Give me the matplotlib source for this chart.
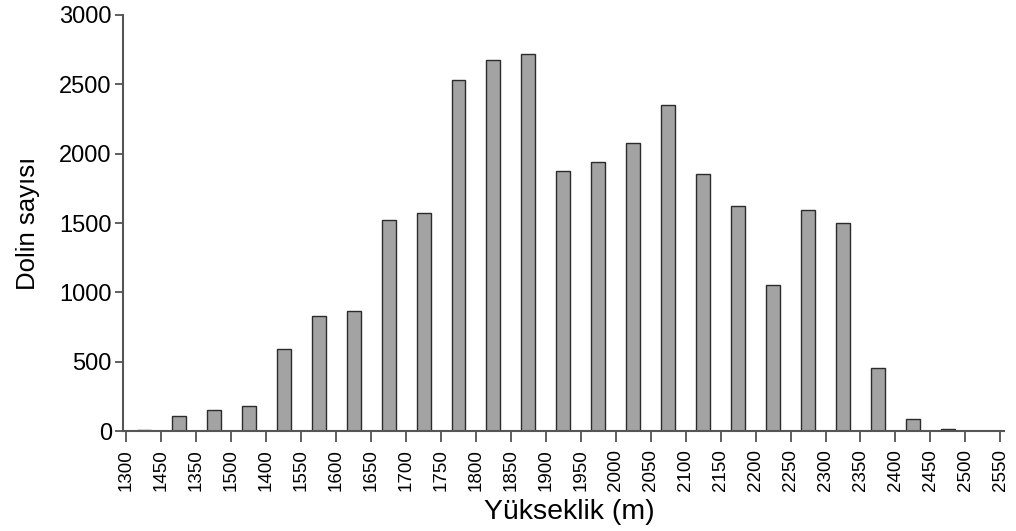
import numpy as np
import matplotlib
matplotlib.use("Agg")
import matplotlib.pyplot as plt

plt.rcParams['font.family'] = ['Liberation Sans', 'DejaVu Sans']

# tick labels as printed in the source figure (order kept as-is)
tick_labels = ['1300', '1450', '1350', '1500', '1400', '1550', '1600', '1650',
               '1700', '1750', '1800', '1850', '1900', '1950', '2000', '2050',
               '2100', '2150', '2200', '2250', '2300', '2350', '2400', '2450',
               '2500', '2550']
# dolin counts per elevation band
counts = [10, 110, 150, 180, 590, 830, 865, 1520, 1570, 2530, 2675, 2720,
          1875, 1940, 2080, 2350, 1855, 1620, 1050, 1595, 1500, 455, 85, 15, 3]

fig = plt.figure(figsize=(10.16, 5.31), dpi=100)
ax = fig.add_axes([0.121, 0.188, 0.867, 0.784])

x = np.arange(len(counts)) + 0.5
ax.bar(x, counts, width=0.4, color='#a3a3a3', edgecolor='#2b2b2b', linewidth=1.0)

ax.set_xlim(-0.1, 25.1)
ax.set_ylim(0, 3000)
ax.set_xticks(np.arange(len(tick_labels)))
ax.set_xticklabels(tick_labels, rotation=90, fontsize=13.5)
ax.set_yticks([0, 500, 1000, 1500, 2000, 2500, 3000])
ax.tick_params(axis='y', labelsize=17, length=6, width=1.2, color='#444444', pad=2)
ax.tick_params(axis='x', length=8, width=1.2, color='#444444', pad=5)

for s in ['top', 'right']:
    ax.spines[s].set_visible(False)
for s in ['left', 'bottom']:
    ax.spines[s].set_color('#555555')
    ax.spines[s].set_linewidth(1.5)

ax.set_xlabel('Yükseklik (m)', fontsize=20.5, va='top')
ax.xaxis.set_label_coords(0.507, -0.163)
ax.set_ylabel('Dolin sayısı', fontsize=18.5, labelpad=14)

fig.savefig('out.png', dpi=100)
